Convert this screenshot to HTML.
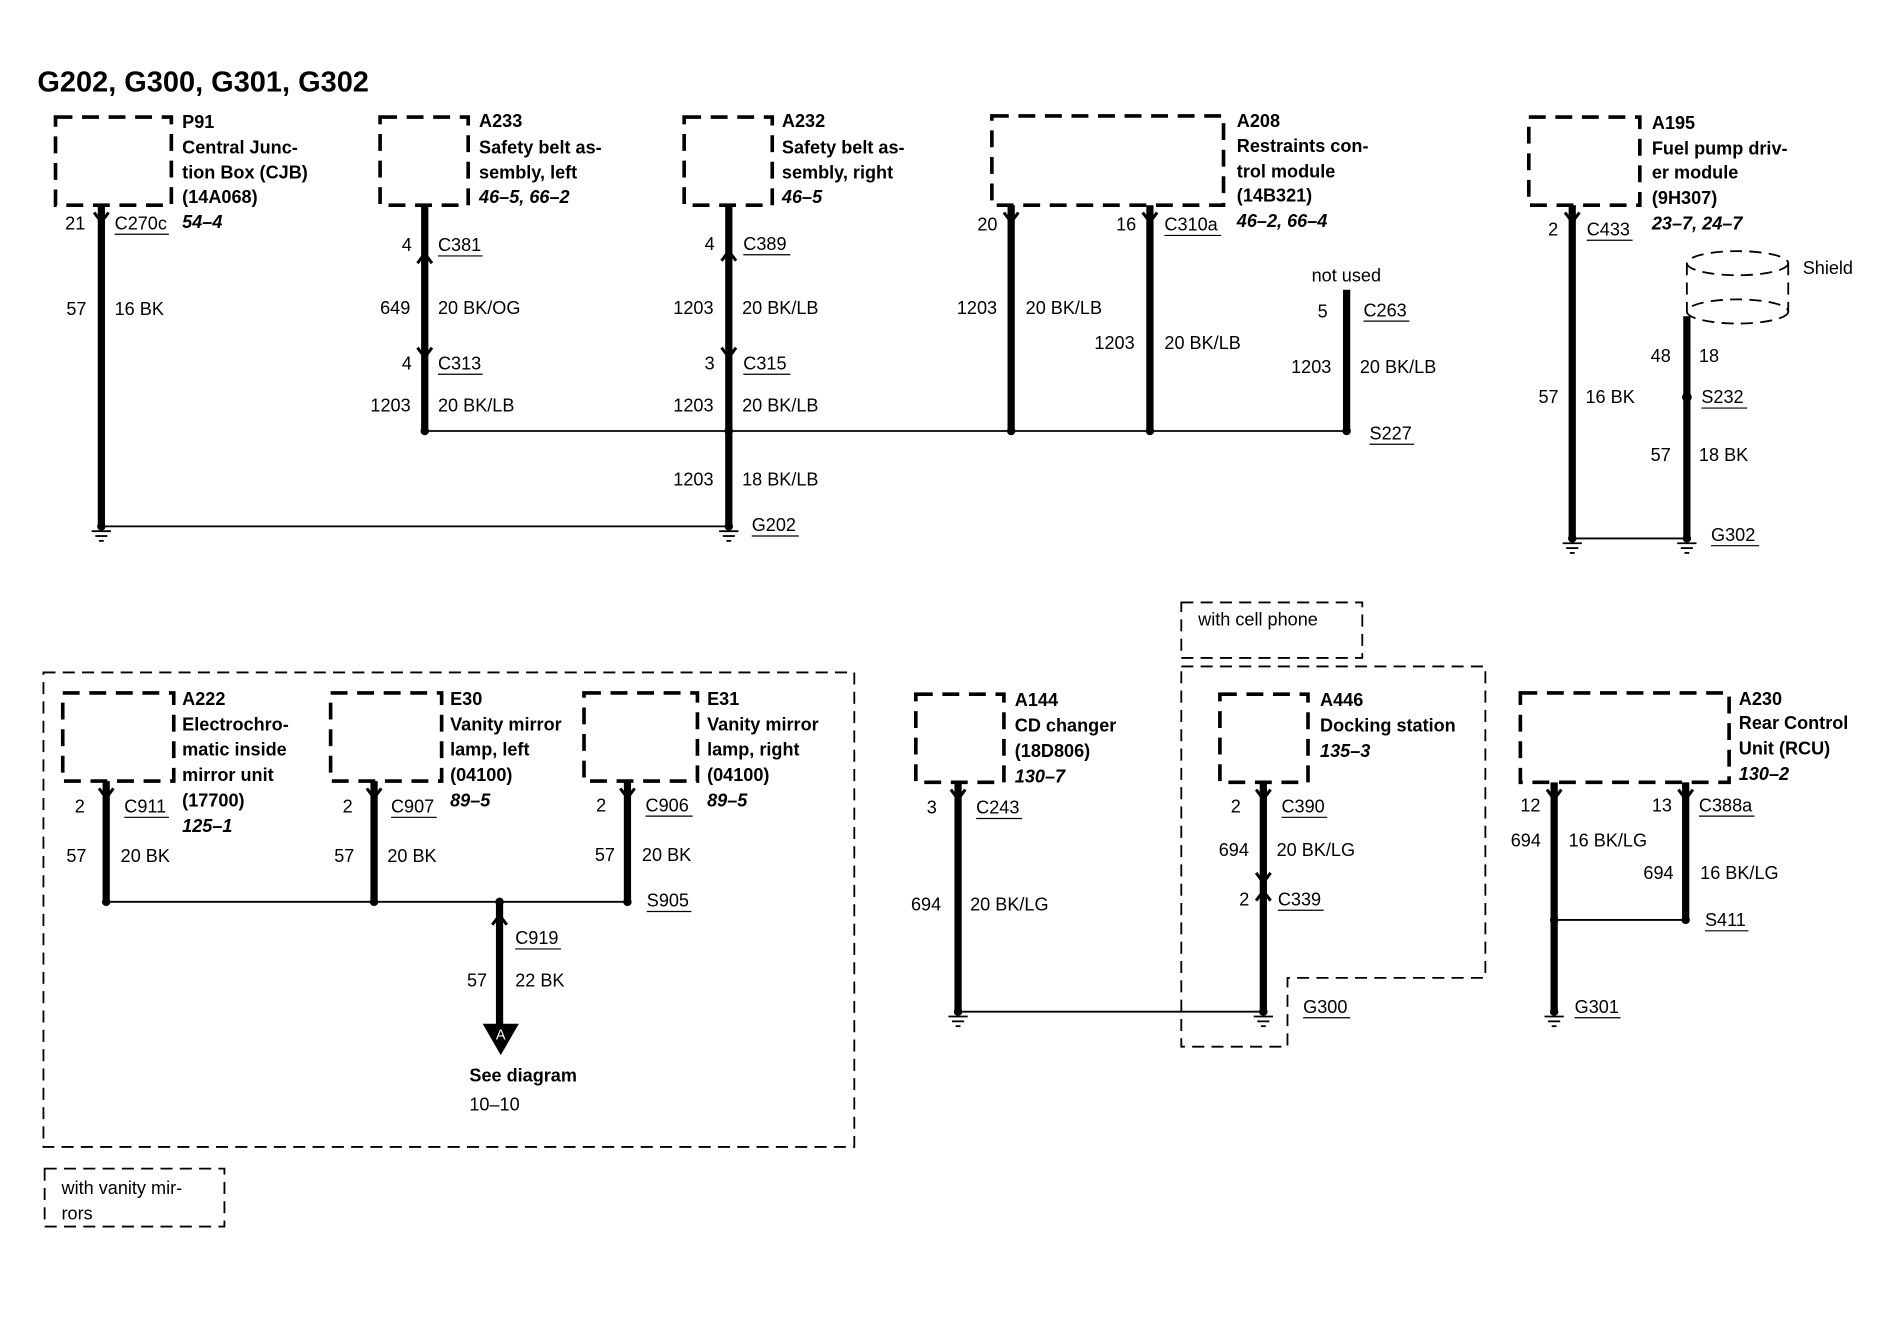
<!DOCTYPE html>
<html><head><meta charset="utf-8"><style>
html,body{margin:0;padding:0;background:#fff;}
svg{display:block;}
text{font-family:"Liberation Sans",sans-serif;font-size:15px;fill:#000;}
.b{font-weight:bold;}
.i{font-weight:bold;font-style:italic;}
.box{fill:none;stroke:#000;stroke-width:3;stroke-dasharray:14 8;}
.thin{fill:none;stroke:#000;stroke-width:1.5;stroke-dasharray:10 6;}
.w{stroke:#000;stroke-width:6;fill:none;}
.l{stroke:#000;stroke-width:1.5;fill:none;}
.u{stroke:#000;stroke-width:1;}
</style></head><body>
<svg width="1892" height="1328" viewBox="0 0 1568 1100" preserveAspectRatio="none" xmlns="http://www.w3.org/2000/svg">
<defs>
<g id="gnd"><line x1="-8" y1="4" x2="8" y2="4" stroke="#000" stroke-width="1.5"/><line x1="-5" y1="8" x2="5" y2="8" stroke="#000" stroke-width="1.5"/><line x1="-2" y1="12" x2="2" y2="12" stroke="#000" stroke-width="1.5"/><circle r="3.5" fill="#000"/></g>
<g id="chev"><path d="M-6,-4 L0,4 L6,-4" stroke="#000" stroke-width="2.5" fill="none"/></g>
</defs>
<text x="31" y="76" class="b" style="font-size:24px">G202, G300, G301, G302</text>

<!-- P91 -->
<rect x="46" y="97" width="96" height="73" class="box"/>
<text x="151" y="106" class="b">P91</text><text x="151" y="127" class="b">Central Junc-</text><text x="151" y="148" class="b">tion Box (CJB)</text><text x="151" y="168" class="b">(14A068)</text><text x="151" y="189" class="i">54–4</text>
<line x1="84" y1="170" x2="84" y2="436" class="w"/><use href="#chev" x="84" y="180"/>
<text x="54" y="190">21</text><text x="95" y="190">C270c</text><line x1="95" y1="194" x2="140" y2="194" class="u"/>
<text x="55" y="261">57</text><text x="95" y="261">16 BK</text>
<use href="#gnd" x="84" y="436"/>

<!-- A233 -->
<rect x="315" y="97" width="73" height="73" class="box"/>
<text x="397" y="105" class="b">A233</text><text x="397" y="127" class="b">Safety belt as-</text><text x="397" y="148" class="b">sembly, left</text><text x="397" y="168" class="i">46–5, 66–2</text>
<line x1="352" y1="170" x2="352" y2="357" class="w"/><use href="#chev" x="352" y="214" transform="rotate(180 352 214)"/><use href="#chev" x="352" y="292"/>
<text x="333" y="208">4</text><text x="363" y="208">C381</text><line x1="363" y1="212" x2="400" y2="212" class="u"/>
<text x="315" y="260">649</text><text x="363" y="260">20 BK/OG</text>
<text x="333" y="306">4</text><text x="363" y="306">C313</text><line x1="363" y1="310" x2="400" y2="310" class="u"/>
<text x="307" y="341">1203</text><text x="363" y="341">20 BK/LB</text>
<circle cx="352" cy="357" r="3.5"/>

<!-- A232 -->
<rect x="567" y="97" width="73" height="73" class="box"/>
<text x="648" y="105" class="b">A232</text><text x="648" y="127" class="b">Safety belt as-</text><text x="648" y="148" class="b">sembly, right</text><text x="648" y="168" class="i">46–5</text>
<line x1="604" y1="170" x2="604" y2="436" class="w"/><use href="#chev" x="604" y="212" transform="rotate(180 604 212)"/><use href="#chev" x="604" y="292"/>
<text x="584" y="207">4</text><text x="616" y="207">C389</text><line x1="616" y1="211" x2="655" y2="211" class="u"/>
<text x="558" y="260">1203</text><text x="615" y="260">20 BK/LB</text>
<text x="584" y="306">3</text><text x="616" y="306">C315</text><line x1="616" y1="310" x2="655" y2="310" class="u"/>
<text x="558" y="341">1203</text><text x="615" y="341">20 BK/LB</text>
<text x="558" y="402">1203</text><text x="615" y="402">18 BK/LB</text>
<circle cx="604" cy="357" r="3.5"/>
<use href="#gnd" x="604" y="436"/>
<text x="623" y="440">G202</text><line x1="623" y1="444" x2="662" y2="444" class="u"/>
<line x1="84" y1="436" x2="604" y2="436" class="l"/>

<!-- A208 -->
<rect x="822" y="96" width="192" height="74" class="box"/>
<text x="1025" y="105" class="b">A208</text><text x="1025" y="126" class="b">Restraints con-</text><text x="1025" y="147" class="b">trol module</text><text x="1025" y="167" class="b">(14B321)</text><text x="1025" y="188" class="i">46–2, 66–4</text>
<line x1="838" y1="170" x2="838" y2="357" class="w"/><line x1="953" y1="170" x2="953" y2="357" class="w"/>
<use href="#chev" x="838" y="180"/><use href="#chev" x="953" y="180"/>
<text x="810" y="191">20</text><text x="925" y="191">16</text><text x="965" y="191">C310a</text><line x1="965" y1="195" x2="1012" y2="195" class="u"/>
<text x="793" y="260">1203</text><text x="850" y="260">20 BK/LB</text>
<text x="907" y="289">1203</text><text x="965" y="289">20 BK/LB</text>
<circle cx="838" cy="357" r="3.5"/><circle cx="953" cy="357" r="3.5"/>
<line x1="352" y1="357" x2="1116" y2="357" class="l"/>
<text x="1087" y="233">not used</text>
<line x1="1116" y1="240" x2="1116" y2="357" class="w"/>
<text x="1092" y="263">5</text><text x="1130" y="262">C263</text><line x1="1130" y1="266" x2="1168" y2="266" class="u"/>
<text x="1070" y="309">1203</text><text x="1127" y="309">20 BK/LB</text>
<circle cx="1116" cy="357" r="3.5"/>
<text x="1135" y="364">S227</text><line x1="1135" y1="368" x2="1172" y2="368" class="u"/>

<!-- A195 -->
<rect x="1267" y="97" width="92" height="73" class="box"/>
<text x="1369" y="107" class="b">A195</text><text x="1369" y="128" class="b">Fuel pump driv-</text><text x="1369" y="148" class="b">er module</text><text x="1369" y="169" class="b">(9H307)</text><text x="1369" y="190" class="i">23–7, 24–7</text>
<line x1="1303" y1="170" x2="1303" y2="446" class="w"/><use href="#chev" x="1303" y="180"/>
<text x="1283" y="195">2</text><text x="1315" y="195">C433</text><line x1="1315" y1="199" x2="1353" y2="199" class="u"/>
<text x="1275" y="334">57</text><text x="1314" y="334">16 BK</text>
<ellipse cx="1440" cy="218" rx="42" ry="10" class="thin"/>
<ellipse cx="1440" cy="258" rx="42" ry="10" class="thin"/>
<line x1="1398" y1="218" x2="1398" y2="258" class="thin"/><line x1="1482" y1="218" x2="1482" y2="258" class="thin"/>
<text x="1494" y="227">Shield</text>
<line x1="1398" y1="262" x2="1398" y2="446" class="w"/>
<text x="1368" y="300">48</text><text x="1408" y="300">18</text>
<circle cx="1398" cy="329" r="4"/><text x="1410" y="334">S232</text><line x1="1410" y1="338" x2="1448" y2="338" class="u"/>
<text x="1368" y="382">57</text><text x="1408" y="382">18 BK</text>
<line x1="1303" y1="446" x2="1398" y2="446" class="l"/>
<use href="#gnd" x="1303" y="446"/><use href="#gnd" x="1398" y="446"/>
<text x="1418" y="448">G302</text><line x1="1418" y1="452" x2="1458" y2="452" class="u"/>

<!-- Bottom left -->
<rect x="36" y="557" width="672" height="393" class="thin"/>
<rect x="37" y="968" width="149" height="48" class="thin"/>
<text x="51" y="989">with vanity mir-</text><text x="51" y="1010">rors</text>

<rect x="52" y="574" width="92" height="73" class="box"/>
<text x="151" y="584" class="b">A222</text><text x="151" y="605" class="b">Electrochro-</text><text x="151" y="626" class="b">matic inside</text><text x="151" y="647" class="b">mirror unit</text><text x="151" y="668" class="b">(17700)</text><text x="151" y="689" class="i">125–1</text>
<line x1="88" y1="647" x2="88" y2="747" class="w"/><use href="#chev" x="88" y="657"/>
<text x="62" y="673">2</text><text x="103" y="673">C911</text><line x1="103" y1="677" x2="140" y2="677" class="u"/>
<text x="55" y="714">57</text><text x="100" y="714">20 BK</text>

<rect x="274" y="574" width="92" height="73" class="box"/>
<text x="373" y="584" class="b">E30</text><text x="373" y="605" class="b">Vanity mirror</text><text x="373" y="626" class="b">lamp, left</text><text x="373" y="647" class="b">(04100)</text><text x="373" y="668" class="i">89–5</text>
<line x1="310" y1="647" x2="310" y2="747" class="w"/><use href="#chev" x="310" y="657"/>
<text x="284" y="673">2</text><text x="324" y="673">C907</text><line x1="324" y1="677" x2="362" y2="677" class="u"/>
<text x="277" y="714">57</text><text x="321" y="714">20 BK</text>

<rect x="484" y="574" width="94" height="73" class="box"/>
<text x="586" y="584" class="b">E31</text><text x="586" y="605" class="b">Vanity mirror</text><text x="586" y="626" class="b">lamp, right</text><text x="586" y="647" class="b">(04100)</text><text x="586" y="668" class="i">89–5</text>
<line x1="520" y1="647" x2="520" y2="747" class="w"/><use href="#chev" x="520" y="657"/>
<text x="494" y="672">2</text><text x="535" y="672">C906</text><line x1="535" y1="676" x2="574" y2="676" class="u"/>
<text x="493" y="713">57</text><text x="532" y="713">20 BK</text>
<line x1="88" y1="747" x2="520" y2="747" class="l"/>
<circle cx="88" cy="747" r="3.5"/><circle cx="310" cy="747" r="3.5"/><circle cx="414" cy="747" r="3.5"/><circle cx="520" cy="747" r="3.5"/>
<text x="536" y="751">S905</text><line x1="536" y1="755" x2="573" y2="755" class="u"/>
<line x1="414" y1="747" x2="414" y2="852" class="w"/><use href="#chev" x="414" y="762" transform="rotate(180 414 762)"/>
<polygon points="400,848 430,848 415,874" fill="#000"/>
<text x="415" y="861" text-anchor="middle" style="fill:#fff;font-size:12px">A</text>
<text x="427" y="782">C919</text><line x1="427" y1="786" x2="465" y2="786" class="u"/>
<text x="387" y="817">57</text><text x="427" y="817">22 BK</text>
<text x="389" y="896" class="b">See diagram</text><text x="389" y="920">10–10</text>

<!-- A144 -->
<rect x="759" y="575" width="73" height="73" class="box"/>
<text x="841" y="585" class="b">A144</text><text x="841" y="606" class="b">CD changer</text><text x="841" y="627" class="b">(18D806)</text><text x="841" y="648" class="i">130–7</text>
<line x1="794" y1="648" x2="794" y2="838" class="w"/><use href="#chev" x="794" y="658"/>
<text x="768" y="674">3</text><text x="809" y="674">C243</text><line x1="809" y1="678" x2="847" y2="678" class="u"/>
<text x="755" y="754">694</text><text x="804" y="754">20 BK/LG</text>
<line x1="794" y1="838" x2="1047" y2="838" class="l"/>
<use href="#gnd" x="794" y="838"/>

<!-- cell phone -->
<rect x="979" y="499" width="150" height="46" class="thin"/>
<text x="993" y="518">with cell phone</text>
<polygon points="979,552 1231,552 1231,810 1067,810 1067,867 979,867" class="thin"/>
<rect x="1011" y="575" width="73" height="73" class="box"/>
<text x="1094" y="585" class="b">A446</text><text x="1094" y="606" class="b">Docking station</text><text x="1094" y="627" class="i">135–3</text>
<line x1="1047" y1="648" x2="1047" y2="838" class="w"/><use href="#chev" x="1047" y="658"/><use href="#chev" x="1047" y="727"/><use href="#chev" x="1047" y="742" transform="rotate(180 1047 742)"/>
<text x="1020" y="673">2</text><text x="1062" y="673">C390</text><line x1="1062" y1="677" x2="1100" y2="677" class="u"/>
<text x="1010" y="709">694</text><text x="1058" y="709">20 BK/LG</text>
<text x="1027" y="750">2</text><text x="1059" y="750">C339</text><line x1="1059" y1="754" x2="1097" y2="754" class="u"/>
<use href="#gnd" x="1047" y="838"/>
<text x="1080" y="839">G300</text><line x1="1080" y1="843" x2="1119" y2="843" class="u"/>

<!-- A230 -->
<rect x="1260" y="574" width="173" height="74" class="box"/>
<text x="1441" y="584" class="b">A230</text><text x="1441" y="604" class="b">Rear Control</text><text x="1441" y="625" class="b">Unit (RCU)</text><text x="1441" y="646" class="i">130–2</text>
<line x1="1288" y1="648" x2="1288" y2="838" class="w"/><line x1="1397" y1="648" x2="1397" y2="762" class="w"/>
<use href="#chev" x="1288" y="658"/><use href="#chev" x="1397" y="658"/>
<text x="1260" y="672">12</text><text x="1369" y="672">13</text><text x="1408" y="672">C388a</text><line x1="1408" y1="676" x2="1454" y2="676" class="u"/>
<text x="1252" y="701">694</text><text x="1300" y="701">16 BK/LG</text>
<text x="1362" y="728">694</text><text x="1409" y="728">16 BK/LG</text>
<line x1="1288" y1="762" x2="1397" y2="762" class="l"/>
<circle cx="1288" cy="762" r="3.5"/><circle cx="1397" cy="762" r="3.5"/>
<text x="1413" y="767">S411</text><line x1="1413" y1="771" x2="1449" y2="771" class="u"/>
<use href="#gnd" x="1288" y="838"/>
<text x="1305" y="839">G301</text><line x1="1305" y1="843" x2="1343" y2="843" class="u"/>
</svg>
</body></html>
